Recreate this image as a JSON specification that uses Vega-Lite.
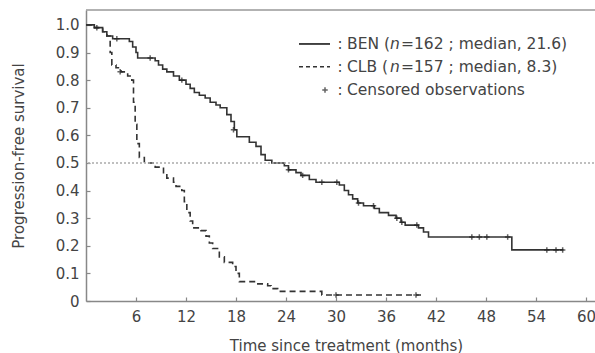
{
  "$schema": "https://vega.github.io/schema/vega-lite/v6.json",
  "width": 520,
  "height": 291,
  "autosize": {"type": "none"},
  "padding": {"left": 86, "top": 10, "right": 0, "bottom": 52},
  "data": {"values": [{}]},
  "config": {
    "view": {"stroke": null},
    "font": "DejaVu Sans",
    "axis": {
      "grid": false,
      "domainColor": "#888",
      "domainWidth": 1.5,
      "tickColor": "#888",
      "tickWidth": 1.2,
      "tickSize": -4,
      "labelOverlap": false,
      "labelFont": "DejaVu Sans",
      "labelFontSize": 15,
      "labelColor": "#444",
      "titleFont": "DejaVu Sans",
      "titleFontSize": 15,
      "titleFontWeight": "normal",
      "titleColor": "#444"
    }
  },
  "datasets": {
    "curves": [
      {"group": "BEN", "time": 0, "surv": 1.0},
      {"group": "BEN", "time": 1.0, "surv": 0.99},
      {"group": "BEN", "time": 2.0, "surv": 0.975},
      {"group": "BEN", "time": 2.5, "surv": 0.96},
      {"group": "BEN", "time": 3.2, "surv": 0.95},
      {"group": "BEN", "time": 5.2, "surv": 0.94},
      {"group": "BEN", "time": 5.6, "surv": 0.92},
      {"group": "BEN", "time": 6.0, "surv": 0.9},
      {"group": "BEN", "time": 6.2, "surv": 0.88},
      {"group": "BEN", "time": 8.3, "surv": 0.87},
      {"group": "BEN", "time": 8.7, "surv": 0.855},
      {"group": "BEN", "time": 9.2, "surv": 0.84},
      {"group": "BEN", "time": 9.7, "surv": 0.83},
      {"group": "BEN", "time": 10.5, "surv": 0.815},
      {"group": "BEN", "time": 11.2, "surv": 0.8},
      {"group": "BEN", "time": 12.0, "surv": 0.785},
      {"group": "BEN", "time": 12.5, "surv": 0.77},
      {"group": "BEN", "time": 13.0, "surv": 0.755},
      {"group": "BEN", "time": 13.6, "surv": 0.745},
      {"group": "BEN", "time": 14.3, "surv": 0.735},
      {"group": "BEN", "time": 14.9, "surv": 0.72},
      {"group": "BEN", "time": 15.6, "surv": 0.71},
      {"group": "BEN", "time": 16.1, "surv": 0.7},
      {"group": "BEN", "time": 16.9, "surv": 0.675},
      {"group": "BEN", "time": 17.4, "surv": 0.65},
      {"group": "BEN", "time": 17.8, "surv": 0.62},
      {"group": "BEN", "time": 18.1, "surv": 0.595},
      {"group": "BEN", "time": 19.6, "surv": 0.575},
      {"group": "BEN", "time": 20.4, "surv": 0.56},
      {"group": "BEN", "time": 21.0, "surv": 0.53},
      {"group": "BEN", "time": 21.5, "surv": 0.51},
      {"group": "BEN", "time": 22.3, "surv": 0.5},
      {"group": "BEN", "time": 23.8, "surv": 0.49},
      {"group": "BEN", "time": 24.3, "surv": 0.475},
      {"group": "BEN", "time": 25.2, "surv": 0.465},
      {"group": "BEN", "time": 25.8, "surv": 0.455},
      {"group": "BEN", "time": 26.8, "surv": 0.44},
      {"group": "BEN", "time": 27.6, "surv": 0.43},
      {"group": "BEN", "time": 30.4, "surv": 0.42},
      {"group": "BEN", "time": 31.0, "surv": 0.4},
      {"group": "BEN", "time": 31.5, "surv": 0.385},
      {"group": "BEN", "time": 32.0, "surv": 0.37},
      {"group": "BEN", "time": 32.6, "surv": 0.355},
      {"group": "BEN", "time": 33.3, "surv": 0.345},
      {"group": "BEN", "time": 34.6, "surv": 0.335},
      {"group": "BEN", "time": 35.2, "surv": 0.32},
      {"group": "BEN", "time": 36.3, "surv": 0.31},
      {"group": "BEN", "time": 37.2, "surv": 0.3},
      {"group": "BEN", "time": 37.8, "surv": 0.285},
      {"group": "BEN", "time": 38.3, "surv": 0.275},
      {"group": "BEN", "time": 39.9, "surv": 0.265},
      {"group": "BEN", "time": 40.5, "surv": 0.25},
      {"group": "BEN", "time": 41.1, "surv": 0.232},
      {"group": "BEN", "time": 51.1, "surv": 0.185},
      {"group": "BEN", "time": 57.3, "surv": 0.185},
      {"group": "CLB", "time": 0, "surv": 1.0},
      {"group": "CLB", "time": 1.0, "surv": 0.99},
      {"group": "CLB", "time": 2.0, "surv": 0.975},
      {"group": "CLB", "time": 2.5, "surv": 0.96},
      {"group": "CLB", "time": 2.9, "surv": 0.9},
      {"group": "CLB", "time": 3.1, "surv": 0.855},
      {"group": "CLB", "time": 3.6, "surv": 0.845},
      {"group": "CLB", "time": 4.2, "surv": 0.83},
      {"group": "CLB", "time": 5.0, "surv": 0.815},
      {"group": "CLB", "time": 5.5, "surv": 0.8},
      {"group": "CLB", "time": 5.7, "surv": 0.72},
      {"group": "CLB", "time": 5.9, "surv": 0.64},
      {"group": "CLB", "time": 6.1, "surv": 0.57},
      {"group": "CLB", "time": 6.4, "surv": 0.52},
      {"group": "CLB", "time": 7.0, "surv": 0.5},
      {"group": "CLB", "time": 8.3, "surv": 0.485},
      {"group": "CLB", "time": 9.3, "surv": 0.465},
      {"group": "CLB", "time": 9.7, "surv": 0.445},
      {"group": "CLB", "time": 10.5, "surv": 0.43},
      {"group": "CLB", "time": 10.8, "surv": 0.415},
      {"group": "CLB", "time": 11.5, "surv": 0.4},
      {"group": "CLB", "time": 11.8, "surv": 0.36},
      {"group": "CLB", "time": 12.1, "surv": 0.32},
      {"group": "CLB", "time": 12.5, "surv": 0.29},
      {"group": "CLB", "time": 12.8, "surv": 0.265},
      {"group": "CLB", "time": 13.8, "surv": 0.255},
      {"group": "CLB", "time": 14.4, "surv": 0.235},
      {"group": "CLB", "time": 14.8, "surv": 0.21},
      {"group": "CLB", "time": 15.2, "surv": 0.19},
      {"group": "CLB", "time": 16.0, "surv": 0.16},
      {"group": "CLB", "time": 16.6, "surv": 0.14},
      {"group": "CLB", "time": 17.6, "surv": 0.125},
      {"group": "CLB", "time": 18.0, "surv": 0.1},
      {"group": "CLB", "time": 18.4, "surv": 0.07},
      {"group": "CLB", "time": 20.5, "surv": 0.062},
      {"group": "CLB", "time": 21.8, "surv": 0.055},
      {"group": "CLB", "time": 22.2, "surv": 0.045},
      {"group": "CLB", "time": 23.0, "surv": 0.035},
      {"group": "CLB", "time": 28.3, "surv": 0.022},
      {"group": "CLB", "time": 40.2, "surv": 0.022}
    ],
    "censor": [
      {"group": "BEN", "time": 1.3, "surv": 0.99},
      {"group": "BEN", "time": 3.7, "surv": 0.95},
      {"group": "BEN", "time": 7.7, "surv": 0.88},
      {"group": "BEN", "time": 11.5, "surv": 0.8},
      {"group": "BEN", "time": 17.7, "surv": 0.62},
      {"group": "BEN", "time": 24.3, "surv": 0.475},
      {"group": "BEN", "time": 26.0, "surv": 0.455},
      {"group": "BEN", "time": 28.3, "surv": 0.43},
      {"group": "BEN", "time": 30.1, "surv": 0.43},
      {"group": "BEN", "time": 32.7, "surv": 0.355},
      {"group": "BEN", "time": 34.5, "surv": 0.345},
      {"group": "BEN", "time": 37.3, "surv": 0.3},
      {"group": "BEN", "time": 37.9, "surv": 0.285},
      {"group": "BEN", "time": 39.7, "surv": 0.275},
      {"group": "BEN", "time": 46.3, "surv": 0.232},
      {"group": "BEN", "time": 47.2, "surv": 0.232},
      {"group": "BEN", "time": 48.1, "surv": 0.232},
      {"group": "BEN", "time": 50.6, "surv": 0.232},
      {"group": "BEN", "time": 55.3, "surv": 0.185},
      {"group": "BEN", "time": 56.4, "surv": 0.185},
      {"group": "BEN", "time": 57.2, "surv": 0.185},
      {"group": "CLB", "time": 4.1, "surv": 0.83},
      {"group": "CLB", "time": 30.0, "surv": 0.022},
      {"group": "CLB", "time": 39.6, "surv": 0.022}
    ]
  },
  "layer": [
    {
      "data": {"name": "curves"},
      "mark": {"type": "line", "interpolate": "step-after", "color": "#333", "strokeWidth": 1.6},
      "encoding": {
        "x": {"field": "time", "type": "quantitative", "scale": {"domain": [0, 62.4], "nice": false, "zero": false},
          "axis": {"values": [6, 12, 18, 24, 30, 36, 42, 48, 54, 60], "title": "Time since treatment (months)", "labelPadding": 12, "titlePadding": 14}},
        "y": {"field": "surv", "type": "quantitative", "scale": {"domain": [0, 1.054], "nice": false},
          "axis": {"values": [0, 0.1, 0.2, 0.3, 0.4, 0.5, 0.6, 0.7, 0.8, 0.9, 1.0], "labelExpr": "datum.value == 0 ? '0' : format(datum.value, '.1f')", "title": "Progression-free survival", "labelPadding": 11, "titlePadding": 29}},
        "strokeDash": {"field": "group", "type": "nominal", "scale": {"domain": ["BEN", "CLB"], "range": [[1, 0], [6, 4]]}, "legend": null}
      }
    },
    {
      "mark": {"type": "rule", "color": "#aaa", "strokeDash": [2, 2], "strokeWidth": 1.5},
      "encoding": {
        "y": {"datum": 0.5, "type": "quantitative",
          "axis": {"values": [0, 0.1, 0.2, 0.3, 0.4, 0.5, 0.6, 0.7, 0.8, 0.9, 1.0], "labelExpr": "datum.value == 0 ? '0' : format(datum.value, '.1f')", "title": "Progression-free survival", "labelPadding": 11, "titlePadding": 29}}
      }
    },
    {
      "mark": {"type": "rule", "color": "#999", "strokeWidth": 1.5},
      "encoding": {
        "y": {"datum": 1.054, "type": "quantitative",
          "axis": {"values": [0, 0.1, 0.2, 0.3, 0.4, 0.5, 0.6, 0.7, 0.8, 0.9, 1.0], "labelExpr": "datum.value == 0 ? '0' : format(datum.value, '.1f')", "title": "Progression-free survival", "labelPadding": 11, "titlePadding": 29}}
      }
    },
    {
      "data": {"name": "censor"},
      "mark": {"type": "point", "shape": "M-1,0L1,0M0,-1L0,1", "size": 30, "stroke": "#222", "strokeWidth": 1.5, "filled": false},
      "encoding": {
        "x": {"field": "time", "type": "quantitative",
          "axis": {"values": [6, 12, 18, 24, 30, 36, 42, 48, 54, 60], "title": "Time since treatment (months)", "labelPadding": 12, "titlePadding": 14}},
        "y": {"field": "surv", "type": "quantitative",
          "axis": {"values": [0, 0.1, 0.2, 0.3, 0.4, 0.5, 0.6, 0.7, 0.8, 0.9, 1.0], "labelExpr": "datum.value == 0 ? '0' : format(datum.value, '.1f')", "title": "Progression-free survival", "labelPadding": 11, "titlePadding": 29}}
      }
    },
    {
      "mark": {"type": "rule", "color": "#333", "strokeWidth": 1.8},
      "encoding": {
        "x": {"datum": 25.56, "type": "quantitative",
          "axis": {"values": [6, 12, 18, 24, 30, 36, 42, 48, 54, 60], "title": "Time since treatment (months)", "labelPadding": 12, "titlePadding": 14}},
        "x2": {"datum": 29.28},
        "y": {"datum": 0.931, "type": "quantitative",
          "axis": {"values": [0, 0.1, 0.2, 0.3, 0.4, 0.5, 0.6, 0.7, 0.8, 0.9, 1.0], "labelExpr": "datum.value == 0 ? '0' : format(datum.value, '.1f')", "title": "Progression-free survival", "labelPadding": 11, "titlePadding": 29}}
      }
    },
    {
      "mark": {"type": "rule", "color": "#333", "strokeWidth": 1.5, "strokeDash": [4, 3]},
      "encoding": {
        "x": {"datum": 25.56, "type": "quantitative",
          "axis": {"values": [6, 12, 18, 24, 30, 36, 42, 48, 54, 60], "title": "Time since treatment (months)", "labelPadding": 12, "titlePadding": 14}},
        "x2": {"datum": 29.28},
        "y": {"datum": 0.848, "type": "quantitative",
          "axis": {"values": [0, 0.1, 0.2, 0.3, 0.4, 0.5, 0.6, 0.7, 0.8, 0.9, 1.0], "labelExpr": "datum.value == 0 ? '0' : format(datum.value, '.1f')", "title": "Progression-free survival", "labelPadding": 11, "titlePadding": 29}}
      }
    },
    {
      "data": {"values": [
        {"sym": "+", "time": 28.68, "surv": 0.764}
      ]},
      "mark": {"type": "point", "shape": "M-1,0L1,0M0,-1L0,1", "size": 30, "stroke": "#222", "strokeWidth": 1.5, "filled": false},
      "encoding": {
        "x": {"field": "time", "type": "quantitative",
          "axis": {"values": [6, 12, 18, 24, 30, 36, 42, 48, 54, 60], "title": "Time since treatment (months)", "labelPadding": 12, "titlePadding": 14}},
        "y": {"field": "surv", "type": "quantitative",
          "axis": {"values": [0, 0.1, 0.2, 0.3, 0.4, 0.5, 0.6, 0.7, 0.8, 0.9, 1.0], "labelExpr": "datum.value == 0 ? '0' : format(datum.value, '.1f')", "title": "Progression-free survival", "labelPadding": 11, "titlePadding": 29}}
      }
    },
    {
      "data": {"values": [
        {"txt": ":", "time": 30.48, "surv": 0.931},
        {"txt": ":", "time": 30.48, "surv": 0.848},
        {"txt": ":", "time": 30.48, "surv": 0.764}
      ]},
      "mark": {"type": "text", "font": "DejaVu Sans", "fontSize": 15, "color": "#444", "align": "center", "baseline": "middle"},
      "encoding": {
        "x": {"field": "time", "type": "quantitative",
          "axis": {"values": [6, 12, 18, 24, 30, 36, 42, 48, 54, 60], "title": "Time since treatment (months)", "labelPadding": 12, "titlePadding": 14}},
        "y": {"field": "surv", "type": "quantitative",
          "axis": {"values": [0, 0.1, 0.2, 0.3, 0.4, 0.5, 0.6, 0.7, 0.8, 0.9, 1.0], "labelExpr": "datum.value == 0 ? '0' : format(datum.value, '.1f')", "title": "Progression-free survival", "labelPadding": 11, "titlePadding": 29}},
        "text": {"field": "txt"}
      }
    },
    {
      "data": {"values": [
        {"txt": "BEN (", "time": 31.32, "surv": 0.931},
        {"txt": "=162 ; median, 21.6)", "time": 37.8, "surv": 0.931},
        {"txt": "CLB (", "time": 31.32, "surv": 0.848},
        {"txt": "=157 ; median, 8.3)", "time": 37.8, "surv": 0.848},
        {"txt": "Censored observations", "time": 31.32, "surv": 0.764}
      ]},
      "mark": {"type": "text", "font": "DejaVu Sans", "fontSize": 15.5, "color": "#444", "align": "left", "baseline": "middle"},
      "encoding": {
        "x": {"field": "time", "type": "quantitative",
          "axis": {"values": [6, 12, 18, 24, 30, 36, 42, 48, 54, 60], "title": "Time since treatment (months)", "labelPadding": 12, "titlePadding": 14}},
        "y": {"field": "surv", "type": "quantitative",
          "axis": {"values": [0, 0.1, 0.2, 0.3, 0.4, 0.5, 0.6, 0.7, 0.8, 0.9, 1.0], "labelExpr": "datum.value == 0 ? '0' : format(datum.value, '.1f')", "title": "Progression-free survival", "labelPadding": 11, "titlePadding": 29}},
        "text": {"field": "txt"}
      }
    },
    {
      "data": {"values": [
        {"txt": "n", "time": 36.48, "surv": 0.931},
        {"txt": "n", "time": 36.48, "surv": 0.848}
      ]},
      "mark": {"type": "text", "font": "DejaVu Sans", "fontSize": 15.5, "fontStyle": "italic", "color": "#444", "align": "left", "baseline": "middle"},
      "encoding": {
        "x": {"field": "time", "type": "quantitative",
          "axis": {"values": [6, 12, 18, 24, 30, 36, 42, 48, 54, 60], "title": "Time since treatment (months)", "labelPadding": 12, "titlePadding": 14}},
        "y": {"field": "surv", "type": "quantitative",
          "axis": {"values": [0, 0.1, 0.2, 0.3, 0.4, 0.5, 0.6, 0.7, 0.8, 0.9, 1.0], "labelExpr": "datum.value == 0 ? '0' : format(datum.value, '.1f')", "title": "Progression-free survival", "labelPadding": 11, "titlePadding": 29}},
        "text": {"field": "txt"}
      }
    }
  ]
}
